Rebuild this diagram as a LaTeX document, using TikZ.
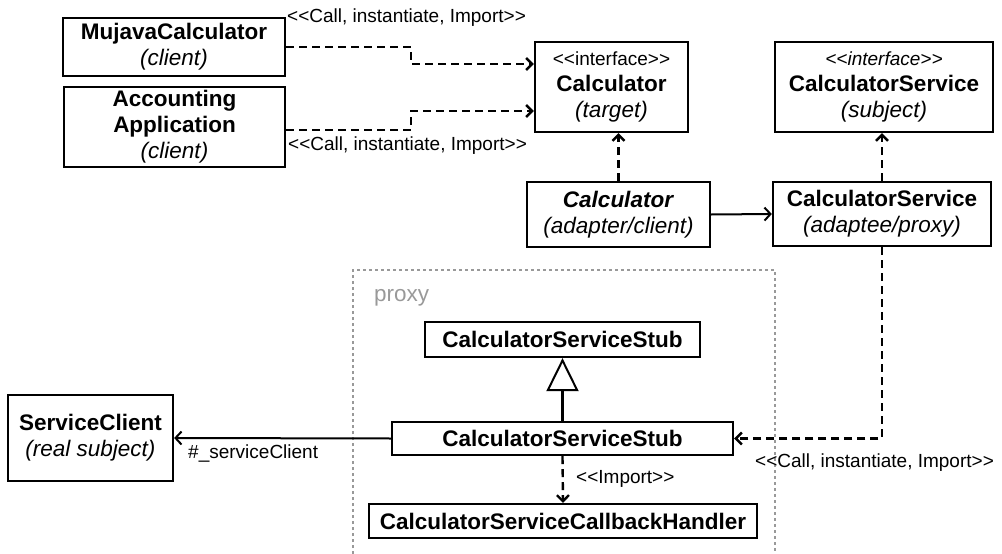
\documentclass[tikz,border=0pt]{standalone}
\usepackage{fontspec}
\setmainfont{Liberation Sans}
\usetikzlibrary{arrows.meta}
\definecolor{proxygray}{gray}{0.6}
\newcommand{\lgl}{<\kern0pt<}
\newcommand{\rgl}{>\kern0pt>}
\tikzset{
  cls/.style={draw=black, line width=2.3pt, inner sep=0pt, align=center,
    font=\fontsize{22.5}{26}\selectfont},
  lbl/.style={font=\fontsize{19}{22}\selectfont, inner sep=0pt},
  dep/.style={line width=2.4pt, dash pattern=on 8pt off 5pt,
    -{Straight Barb[length=6pt,width=12pt]}},
  assoc/.style={line width=2pt, -{Straight Barb[length=6pt,width=13pt]}},
  gen/.style={line width=2.3pt, -{Triangle[open,length=33pt,width=32pt,line width=2pt,fill=white]}},
  proxybox/.style={draw=proxygray, line width=1.2pt, dash pattern=on 3pt off 3pt},
}
\begin{document}
\begin{tikzpicture}[x=1pt,y=-1pt]
\useasboundingbox (0,0) rectangle (1002,554);
% proxy package frame
\draw[proxybox] (353,554) -- (353,270) -- (775,270) -- (775,554);
\node[anchor=west, text=proxygray, inner sep=0pt, font=\fontsize{22.5}{26}\selectfont] (proxylbl) at (374,298) {proxy};

% classes
\node[cls, minimum width=222pt, minimum height=58pt] (mujava) at (174,47)
  {\textbf{MujavaCalculator}\\\textit{(client)}};
\node[cls, minimum width=221pt, minimum height=80pt] (acct) at (174.5,127)
  {\textbf{Accounting}\\\textbf{Application}\\\textit{(client)}};
\node[cls, minimum width=153pt, minimum height=90pt] (calc) at (611.5,87)
  {{\fontsize{19}{22}\selectfont\lgl interface\rgl}\\\textbf{Calculator}\\\textit{(target)}};
\node[cls, minimum width=218pt, minimum height=90pt] (csi) at (884,87)
  {{\fontsize{19}{22}\selectfont\itshape\lgl interface\rgl}\\\textbf{CalculatorService}\\\textit{(subject)}};
\node[cls, minimum width=183pt, minimum height=65pt] (adapter) at (618.5,214.5)
  {\textbf{\textit{Calculator}}\\\textit{(adapter/client)}};
\node[cls, minimum width=218pt, minimum height=64pt] (adaptee) at (882,214)
  {\textbf{CalculatorService}\\\textit{(adaptee/proxy)}};
\node[cls, minimum width=275pt, minimum height=35pt] (stubtop) at (562.5,339.5)
  {\textbf{CalculatorServiceStub}};
\node[cls, minimum width=341pt, minimum height=33pt] (stubmid) at (562.5,438.5)
  {\textbf{CalculatorServiceStub}};
\node[cls, minimum width=388pt, minimum height=34pt] (callback) at (563,521)
  {\textbf{CalculatorServiceCallbackHandler}};
\node[cls, minimum width=165pt, minimum height=86pt] (sc) at (90.5,438)
  {\textbf{ServiceClient}\\\textit{(real subject)}};

% connectors
\draw[dep] (mujava.east) -- ++(125,0) |- ([yshift=23pt]calc.west);
\draw[dep] ([yshift=-3pt]acct.east) -- ++(125,0) |- ([yshift=-24pt]calc.west);
\node[lbl, anchor=west] (lblA) at (287,18) {\lgl Call, instantiate, Import\rgl};
\node[lbl, anchor=west] (lblB) at (288,146) {\lgl Call, instantiate, Import\rgl};

\draw[dep] (adapter.north) -- (adapter.north |- calc.south);
\draw[dep] (adaptee.north) -- (adaptee.north |- csi.south);
\draw[assoc] (adapter.east) -- (adaptee.west);

\draw[gen] (stubmid.north) -- (stubtop.south);
\draw[dep] (stubmid.south) -- (callback.north);
\node[lbl, anchor=west] (lblImp) at (576,479) {\lgl Import\rgl};

\draw[assoc] (stubmid.west) -- (sc.east);
\node[lbl, anchor=west] (lblSC) at (188,453) {\#\_serviceClient};

\draw[dep] (adaptee.south) |- (stubmid.east);
\node[lbl, anchor=west] (lblC) at (755,463) {\lgl Call, instantiate, Import\rgl};
\end{tikzpicture}
\end{document}
